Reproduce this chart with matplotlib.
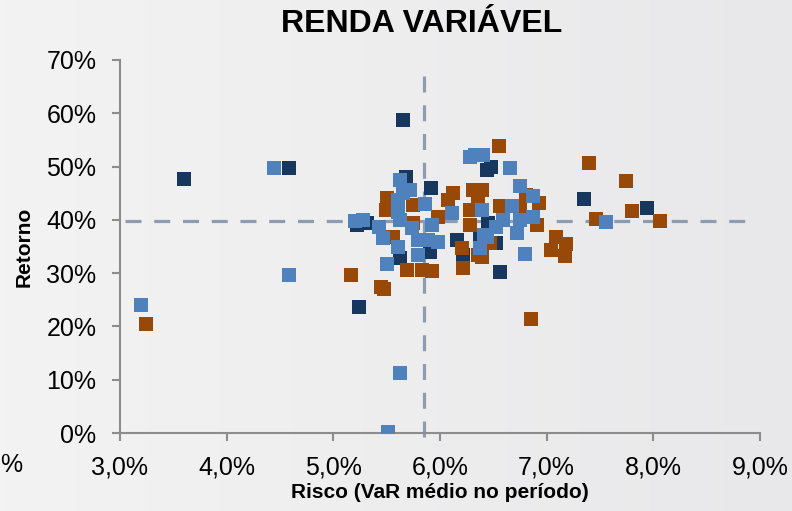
import matplotlib
matplotlib.use("Agg")
from matplotlib import pyplot as plt
from matplotlib.ticker import FuncFormatter
import numpy as np

plt.rcParams['font.family'] = ['Liberation Sans Narrow', 'Liberation Sans', 'DejaVu Sans']

# risco (VaR %) / retorno (%)
navy_x = [5.65, 4.58, 3.60, 5.92, 5.68, 5.32, 5.24, 5.63, 6.16, 6.22, 6.45, 6.44,
          6.48, 6.53, 6.56, 7.35, 7.94, 5.22, 5.91, 6.38]
navy_y = [58.7, 49.7, 47.7, 46.0, 48.0, 39.4, 23.6, 32.8, 36.2, 33.4, 39.4, 49.3,
          49.9, 35.6, 30.2, 43.9, 42.2, 39.0, 34.0, 36.8]

orange_x = [3.24, 5.17, 5.45, 5.48, 5.50, 5.49, 5.56, 5.69, 5.75, 5.75, 5.93, 5.83,
            5.98, 6.12, 6.31, 6.36, 6.28, 6.21, 6.22, 6.36, 6.55, 6.39, 6.81, 6.93,
            6.56, 6.75, 6.91, 6.47, 6.39, 7.40, 7.74, 7.80, 7.46, 8.06, 7.09, 7.18,
            7.04, 7.17, 6.85, 6.08, 6.28]
orange_y = [20.4, 29.6, 27.4, 27.0, 44.1, 41.8, 36.8, 30.6, 42.8, 39.4, 30.4, 30.6,
            40.5, 45.0, 45.6, 44.1, 41.8, 34.7, 31.0, 33.4, 53.8, 45.6, 44.7, 43.2,
            42.6, 42.2, 39.0, 35.6, 33.0, 50.7, 47.3, 41.7, 40.2, 39.8, 36.8, 35.5,
            34.3, 33.2, 21.4, 43.7, 39.0]

blue_x = [3.20, 4.44, 4.58, 5.63, 5.51, 5.20, 5.43, 5.47, 5.61, 5.50, 5.79, 5.93,
          5.89, 5.98, 5.61, 5.63, 5.65, 5.72, 5.61, 5.63, 5.86, 5.74, 6.11, 6.39,
          6.28, 6.33, 6.41, 6.38, 6.40, 6.66, 6.75, 6.87, 6.68, 6.87, 6.75, 6.59,
          6.53, 6.72, 6.44, 6.80, 7.56, 5.28, 5.79]
blue_y = [24.0, 49.7, 29.6, 11.3, 0.2, 39.8, 38.6, 36.6, 34.9, 31.7, 33.4, 39.0,
          36.2, 35.8, 41.5, 47.5, 45.0, 45.6, 43.7, 40.0, 43.0, 38.5, 41.3, 41.8,
          51.8, 52.2, 37.1, 34.7, 52.2, 49.7, 46.3, 44.5, 42.6, 40.5, 40.0, 40.0,
          38.6, 37.5, 36.8, 33.6, 39.6, 40.0, 36.2]

mean_risk = 5.85
mean_ret = 39.7

xticks = [3, 4, 5, 6, 7, 8, 9]
yticks = [0, 10, 20, 30, 40, 50, 60, 70]

fig = plt.figure(figsize=(7.92, 5.11), dpi=100)

# light gray slide background, a bit darker on the right
bg_ax = fig.add_axes([0, 0, 1, 1], zorder=-1)
grad = np.linspace(0, 1, 256).reshape(1, -1)
c0 = np.array([0.953, 0.953, 0.953])
c1 = np.array([0.910, 0.910, 0.918])
img = c0 + (c1 - c0) * grad[..., None]
bg_ax.imshow(img, aspect='auto', extent=[0, 1, 0, 1])
bg_ax.axis('off')

ax = fig.add_axes([0.1515, 0.1526, 0.808, 0.73])
ax.patch.set_alpha(0)

ms = 100
ax.scatter(navy_x, navy_y, s=ms, marker='s', color='#17375e', linewidths=0, zorder=3)
ax.scatter(orange_x, orange_y, s=ms, marker='s', color='#984807', linewidths=0, zorder=4)
ax.scatter(blue_x, blue_y, s=ms, marker='s', color='#4f81bd', linewidths=0, zorder=5)

dash = dict(color='#8e9cb2', lw=2.3, dashes=(5, 4), zorder=2)
ax.axvline(mean_risk, ymin=-0.012, ymax=0.976, clip_on=False, **dash)
ax.axhline(mean_ret, xmin=0.008, xmax=0.995, **dash)

ax.set_xlim(3, 9)
ax.set_ylim(0, 70)
ax.set_xticks(xticks)
ax.set_yticks(yticks)
ax.xaxis.set_major_formatter(FuncFormatter(lambda v, p: f"{v:.1f}%".replace('.', ',')))
ax.yaxis.set_major_formatter(FuncFormatter(lambda v, p: f"{v:.0f}%"))

for side in ['top', 'right']:
    ax.spines[side].set_visible(False)
for side in ['left', 'bottom']:
    ax.spines[side].set_color('#8c8c8c')
    ax.spines[side].set_linewidth(1.5)
ax.tick_params(colors='#8c8c8c', width=1.5, length=6, labelcolor='black', labelsize=18)
ax.tick_params(axis='x', pad=10.5)
ax.tick_params(axis='y', pad=11)

ax.set_xlabel('Risco (VaR médio no período)', fontsize=15, fontweight='bold')
ax.xaxis.set_label_coords(0.5, -0.135)
ax.set_ylabel('Retorno', fontsize=15, fontweight='bold')
ax.yaxis.set_label_coords(-0.135, 0.5)

fig.text(0.532, 0.954, 'RENDA VARIÁVEL', ha='center', va='center', fontsize=23,
         fontweight='bold', family=['Liberation Sans', 'DejaVu Sans'])
fig.text(0.0, 0.09, '%', ha='left', va='center', fontsize=18)

fig.savefig('out.png', dpi=100)
